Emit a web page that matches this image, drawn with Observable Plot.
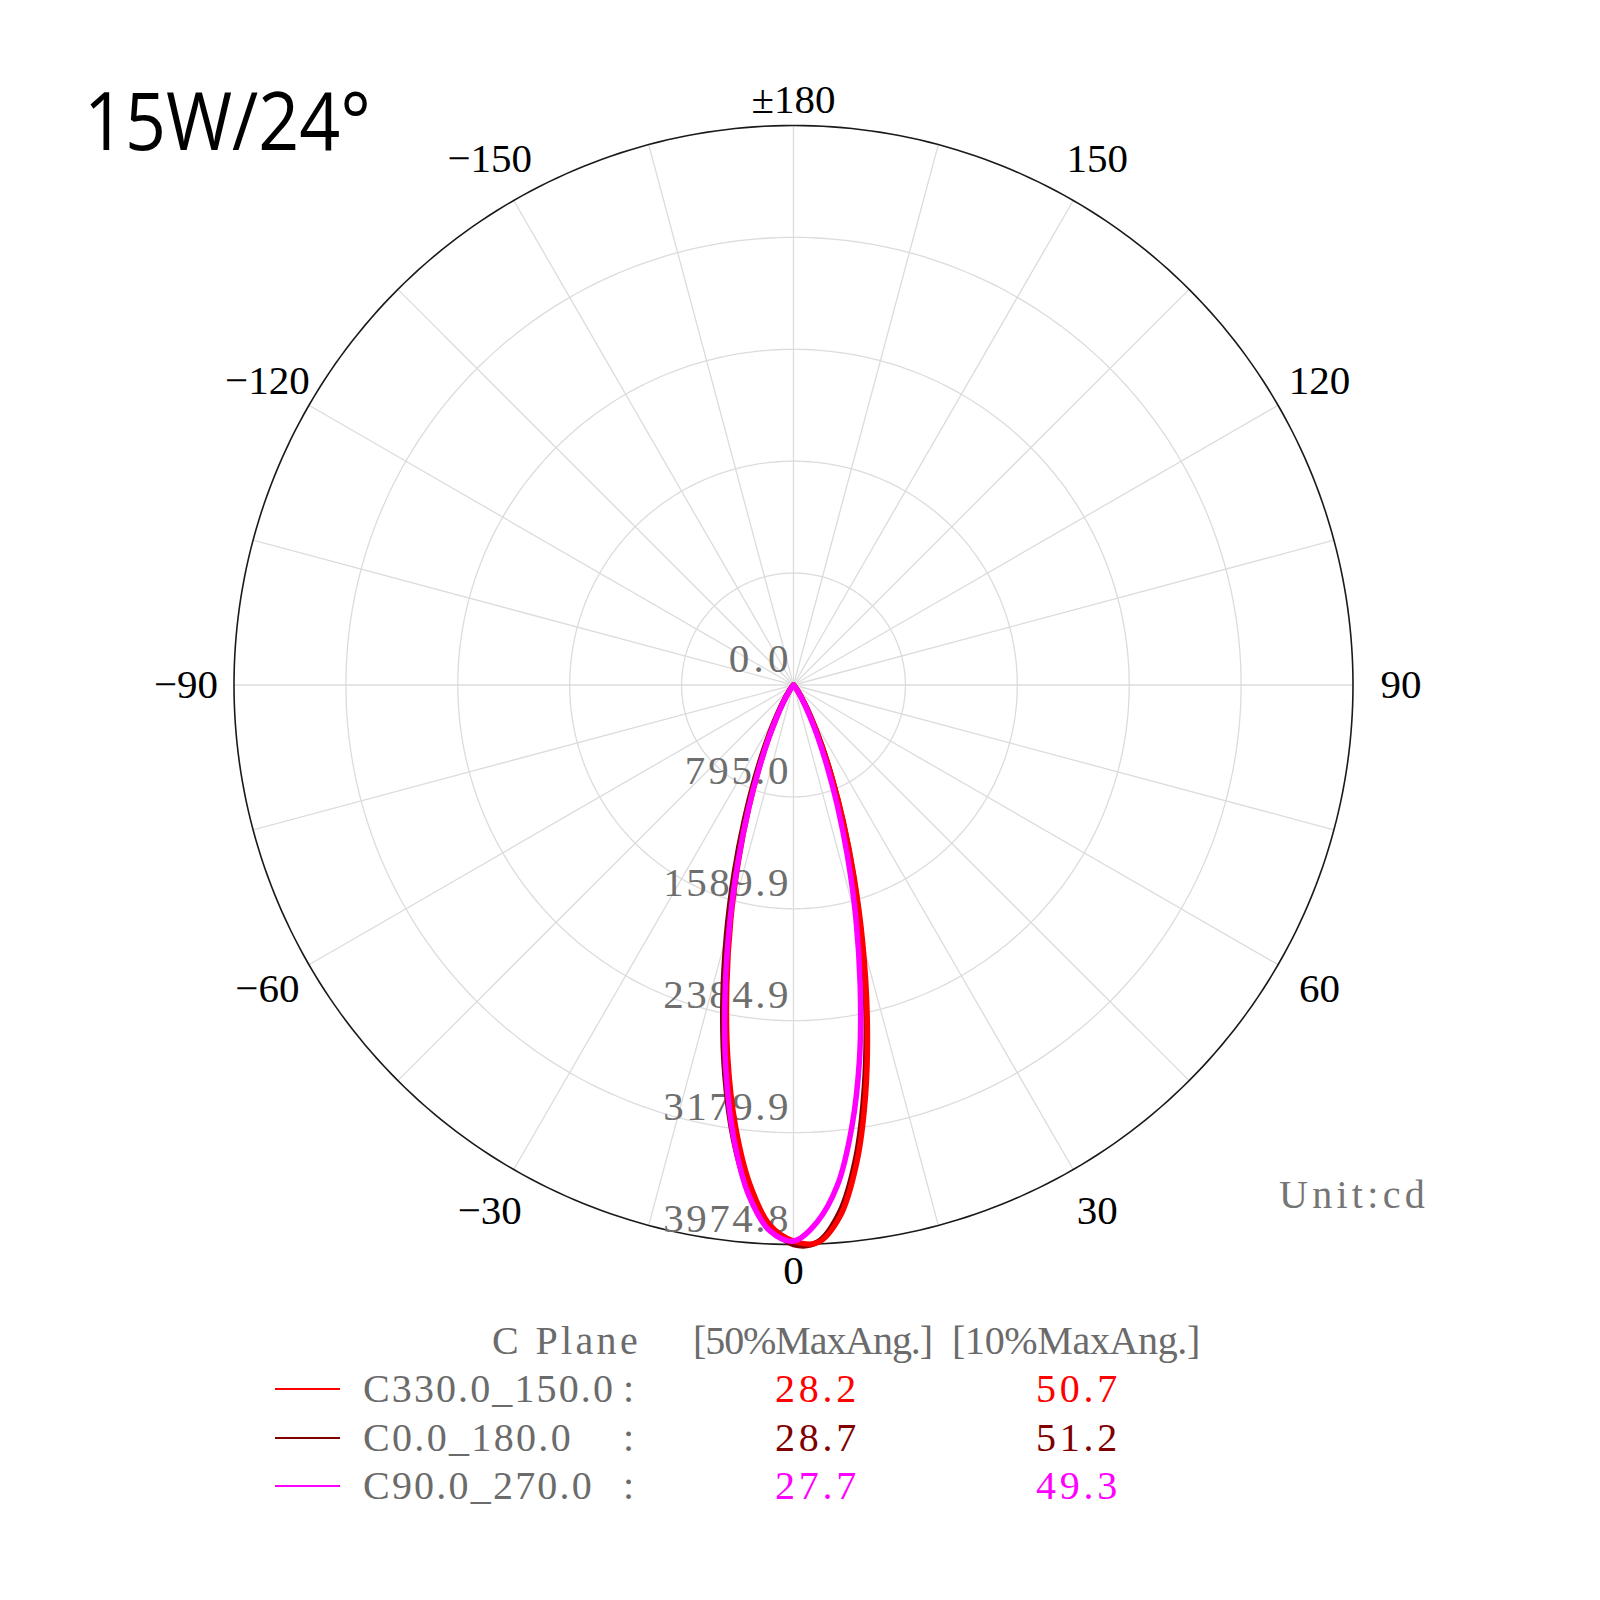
<!DOCTYPE html>
<html><head><meta charset="utf-8">
<script src="https://cdn.jsdelivr.net/npm/d3@7"></script>
<script src="https://cdn.jsdelivr.net/npm/@observablehq/plot@0.6"></script>
<style>
html,body{margin:0;padding:0;background:#fff;}
#wrap{position:relative;width:1600px;height:1600px;overflow:hidden;background:#fff;}
#chart{position:absolute;left:0;top:0;}
.t{position:absolute;white-space:pre;line-height:1;font-family:"Liberation Serif",serif;font-size:40px;color:#6b6b6b;}
.sw{position:absolute;height:2px;}
#title{position:absolute;left:84px;top:79px;font-family:"Open Sans",sans-serif;font-size:80px;line-height:1;color:#000;white-space:pre;transform-origin:0 0;}
</style></head><body>
<div id="wrap"><div id="chart"></div></div>
<script>
// ---- data ----
const gammaAngles = [-90,-80,-70,-60,-50,-45,-40,-35,-32.5,-30,-27.5,-25,-22.5,-20,-17.5,-15,-12.5,-10,-7.5,-5,-2.5,
  0,
  2.5,5,7.5,10,12.5,15,17.5,20,22.5,25,27.5,30,32.5,35,40,45,50,60,70,80,90];
const intensityC330_150 = [0,1,1,2,3,5,14,53,95,163,268,425,640,930,1290,1720,2190,2690,3160,3560,3840,
  3950,
  3965,3790,3430,2950,2420,1900,1430,1035,715,472,298,180,105,59,16,5,3,2,1,1,0];
const intensityC0_180 = [0,1,1,2,3,5,18,63,113,190,309,480,714,1020,1400,1840,2320,2810,3260,3620,3850,
  3974.8,
  3960,3760,3390,2900,2380,1870,1410,1025,715,480,308,190,113,63,18,5,3,2,1,1,0];
const intensityC90_270 = [0,0,1,1,2,3,12,47,87,153,257,413,634,931,1306,1752,2246,2770,3250,3640,3880,
  3950,
  3820,3570,3170,2700,2190,1710,1275,910,620,405,252,150,85,45,12,3,2,1,1,0,0];

const ringValues = [0, 795.0, 1589.9, 2384.9, 3179.9, 3974.8];
const ringLabels = ["0.0", "795.0", "1589.9", "2384.9", "3179.9", "3974.8"];
const spokeAngles = [0,15,30,45,60,75,90,105,120,135,150,165,180,195,210,225,240,255,270,285,300,315,330,345];
const angleLabelValues = [0, 30, 60, 90, 120, 150, 180, -150, -120, -90, -60, -30];
const angleLabelTexts = ["0", "30", "60", "90", "120", "150", "±180", "−150", "−120", "−90", "−60", "−30"];

const planeNames = ["C330.0_150.0", "C0.0_180.0", "C90.0_270.0"];
const planeColors = ["#ff0000", "#800000", "#ff00ff"];
const planeSeries = [intensityC330_150, intensityC0_180, intensityC90_270];
const drawOrder = [1, 0, 2];
const beam50 = ["28.2", "28.7", "27.7"];
const beam10 = ["50.7", "51.2", "49.3"];
const legendHeader = ["C Plane", "[50%MaxAng.]", "[10%MaxAng.]"];
const unitText = "Unit:cd";
const titleText = "15W/24°";

// ---- geometry (styling) ----
const W = 1600, H = 1600, CX = 793, CY = 684.5, RPX = 559.5;
const maxVal = ringValues[ringValues.length - 1];
const k = RPX / maxVal; // px per cd
const rad = d => d * Math.PI / 180;
const px = (g, v) => v * Math.sin(rad(g));
const py = (g, v) => v * Math.cos(rad(g));
const CELL = 21.3; // half-width character cell (px)

// tidy tables built from the arrays
const curveRows = drawOrder.flatMap(i =>
  gammaAngles.map((g, j) => ({plane: planeNames[i], g, v: planeSeries[i][j]})));
const ringRows = ringValues.slice(1).flatMap((v, i) =>
  d3.range(0, 361, 1).map(a => ({ring: i, v, a, outer: i === ringValues.length - 2})));
const labelRows = angleLabelValues.map((g, i) => ({
  g, text: angleLabelTexts[i],
  r: (Math.abs(g) === 0 || Math.abs(g) === 180) ? (RPX + 26) / k : (RPX + 48) / k
}));
const ringLabelRows = ringValues.map((v, i) => ({v, text: ringLabels[i]}));

const chart = Plot.plot({
  width: W, height: H, margin: 0,
  x: {type: "linear", domain: [-CX / k, (W - CX) / k], range: [0, W], axis: null},
  y: {type: "linear", domain: [-CY / k, (H - CY) / k], range: [0, H], axis: null},
  color: {domain: planeNames, range: planeColors},
  style: {background: "transparent", overflow: "visible"},
  marks: [
    Plot.line(ringRows.filter(d => !d.outer), {x: d => px(d.a, d.v), y: d => py(d.a, d.v), z: "ring", stroke: "#dcdcdc", strokeWidth: 1.3}),
    Plot.link(spokeAngles, {x1: () => 0, y1: () => 0, x2: g => px(g, maxVal), y2: g => py(g, maxVal), stroke: "#dcdcdc", strokeWidth: 1.3}),
    Plot.line(ringRows.filter(d => d.outer), {x: d => px(d.a, d.v), y: d => py(d.a, d.v), z: "ring", stroke: "#1a1a1a", strokeWidth: 1.6}),
    Plot.text(ringLabelRows, {x: () => 0, y: d => d.v, text: "text", textAnchor: "end", dx: -5, dy: -26,
      fill: "#6e6e6e", fontSize: 41, fontFamily: "Liberation Serif"}),
    Plot.text(labelRows, {x: d => px(d.g, d.r), y: d => py(d.g, d.r), text: "text",
      fill: "#000", fontSize: 41, fontFamily: "Liberation Serif"}),
    Plot.line(curveRows, {x: d => px(d.g, d.v), y: d => py(d.g, d.v), z: "plane", stroke: "plane",
      strokeWidth: 5.5, curve: "catmull-rom", strokeLinejoin: "round", strokeLinecap: "round"})
  ]
});
const wrap = document.getElementById("wrap");
document.getElementById("chart").appendChild(chart);

// widen ring labels to half-width character cells
const textGroups = chart.querySelectorAll('g[aria-label="text"]');
if (textGroups.length) {
  textGroups[0].querySelectorAll("text").forEach(t => {
    const n = t.textContent.length;
    const w = t.getComputedTextLength();
    const ls = (n * CELL - w) / n;
    t.style.letterSpacing = ls + "px";
    t.setAttribute("dx", ls);
  });
}

// ---- title, unit, legend (HTML around the SVG) ----
const mctx = document.createElement("canvas").getContext("2d");
function spacedText(txt, left, cy, color, target, size = 40) {
  const el = document.createElement("div");
  el.className = "t";
  el.textContent = txt;
  el.style.left = left + "px";
  el.style.top = (cy - size * 0.5075) + "px";
  el.style.fontSize = size + "px";
  if (color) el.style.color = color;
  mctx.font = `${size}px "Liberation Serif"`;
  const w = mctx.measureText(txt).width;
  el.style.letterSpacing = ((target - w) / txt.length) + "px";
  wrap.appendChild(el);
  return el;
}
const title = document.createElement("div");
title.id = "title";
title.textContent = titleText;
wrap.appendChild(title);
const tw = title.getBoundingClientRect().width;
title.style.transform = `scaleX(${287 / tw})`;

spacedText(unitText, 1279, 1195, "#757575", 150);

const headerX = [492, 693, 952];
const headerW = [149, 239, 248];
legendHeader.forEach((h, i) => spacedText(h, headerX[i], 1341, "#6b6b6b", headerW[i]));
const rowY = [1389, 1438, 1486];
planeNames.forEach((name, i) => {
  const sw = document.createElement("div");
  sw.className = "sw";
  sw.style.left = "275px"; sw.style.width = "65px";
  sw.style.top = (rowY[i] - 1) + "px";
  sw.style.background = planeColors[i];
  wrap.appendChild(sw);
  spacedText(name, 363, rowY[i], "#6b6b6b", name.length * 21.0);
  spacedText(":", 623, rowY[i], "#6b6b6b", 14);
  spacedText(beam50[i], 775, rowY[i], planeColors[i], 85);
  spacedText(beam10[i], 1036, rowY[i], planeColors[i], 85);
});
</script></body></html>
